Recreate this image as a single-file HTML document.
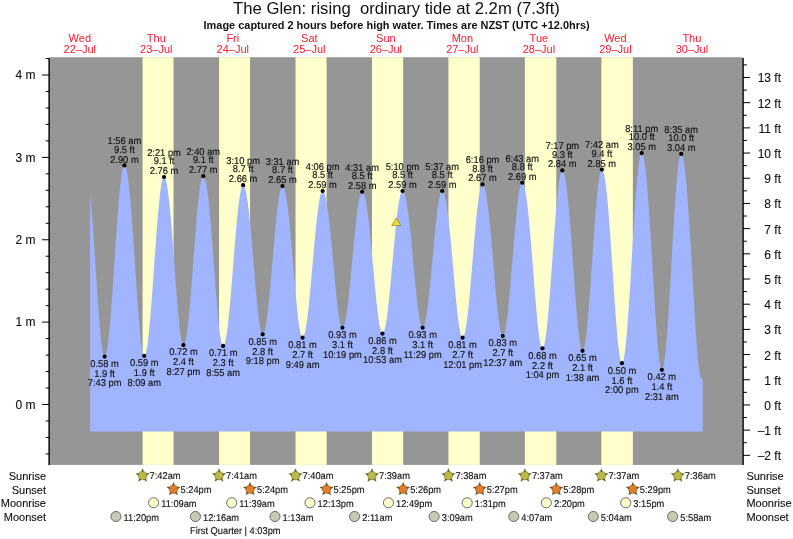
<!DOCTYPE html><html><head><meta charset="utf-8"><title>The Glen tide times</title>
<style>html,body{margin:0;padding:0;background:#fff}svg{display:block}text{font-family:"Liberation Sans",Arial,Helvetica,sans-serif;fill:#111}.s text{stroke:#111;stroke-width:.14px}.d text{fill:#f52030}.b text{stroke:#111;stroke-width:.12px}</style></head><body>
<svg width="793" height="539" viewBox="0 0 793 539">
<rect width="793" height="539" fill="#fff"/>
<rect x="50" y="57.2" width="692.4" height="407.7" fill="#969696"/>
<rect x="142.60" y="57.2" width="30.92" height="407.7" fill="#ffffcc"/>
<rect x="219.06" y="57.2" width="30.98" height="407.7" fill="#ffffcc"/>
<rect x="295.52" y="57.2" width="31.08" height="407.7" fill="#ffffcc"/>
<rect x="371.97" y="57.2" width="31.19" height="407.7" fill="#ffffcc"/>
<rect x="448.43" y="57.2" width="31.30" height="407.7" fill="#ffffcc"/>
<rect x="524.89" y="57.2" width="31.40" height="407.7" fill="#ffffcc"/>
<rect x="601.40" y="57.2" width="31.45" height="407.7" fill="#ffffcc"/>
<path d="M90.10,431.5L90.10,193.41L90.60,198.68L91.10,204.35L91.60,210.38L92.10,216.74L92.60,223.41L93.10,230.35L93.60,237.51L94.10,244.87L94.60,252.36L95.10,259.96L95.60,267.61L96.10,275.26L96.60,282.86L97.10,290.36L97.60,297.70L98.10,304.83L98.60,311.69L99.10,318.24L99.60,324.42L100.10,330.17L100.60,335.47L101.10,340.25L101.60,344.48L102.10,348.12L102.60,351.15L103.10,353.53L103.60,355.24L104.10,356.27L104.60,356.61L105.10,356.30L105.60,355.40L106.10,353.90L106.60,351.82L107.10,349.17L107.60,345.97L108.10,342.23L108.60,337.98L109.10,333.25L109.60,328.07L110.10,322.46L110.60,316.47L111.10,310.13L111.60,303.49L112.10,296.57L112.60,289.44L113.10,282.12L113.60,274.68L114.10,267.14L114.60,259.57L115.10,252.01L115.60,244.50L116.10,237.10L116.60,229.85L117.10,222.79L117.60,215.98L118.10,209.44L118.60,203.23L119.10,197.39L119.60,191.94L120.10,186.93L120.60,182.38L121.10,178.32L121.60,174.79L122.10,171.80L122.60,169.36L123.10,167.50L123.60,166.23L124.10,165.56L124.60,165.48L125.10,165.93L125.60,166.90L126.10,168.38L126.60,170.37L127.10,172.85L127.60,175.83L128.10,179.29L128.60,183.21L129.10,187.58L129.60,192.39L130.10,197.60L130.60,203.20L131.10,209.16L131.60,215.45L132.10,222.05L132.60,228.90L133.10,235.99L133.60,243.27L134.10,250.69L134.60,258.22L135.10,265.81L135.60,273.40L136.10,280.95L136.60,288.40L137.10,295.71L137.60,302.82L138.10,309.68L138.60,316.23L139.10,322.43L139.60,328.23L140.10,333.58L140.60,338.43L141.10,342.75L141.60,346.50L142.10,349.65L142.60,352.17L143.10,354.04L143.60,355.24L144.10,355.76L144.60,355.63L145.10,354.93L145.60,353.68L146.10,351.87L146.60,349.53L147.10,346.66L147.60,343.28L148.10,339.42L148.60,335.09L149.10,330.33L149.60,325.17L150.10,319.64L150.60,313.77L151.10,307.60L151.60,301.17L152.10,294.53L152.60,287.70L153.10,280.74L153.60,273.69L154.10,266.59L154.60,259.49L155.10,252.44L155.60,245.47L156.10,238.64L156.60,231.98L157.10,225.54L157.60,219.35L158.10,213.46L158.60,207.91L159.10,202.73L159.60,197.94L160.10,193.59L160.60,189.70L161.10,186.29L161.60,183.39L162.10,181.01L162.60,179.17L163.10,177.88L163.60,177.15L164.10,176.99L164.60,177.32L165.10,178.13L165.60,179.41L166.10,181.15L166.60,183.36L167.10,186.01L167.60,189.11L168.10,192.63L168.60,196.56L169.10,200.89L169.60,205.60L170.10,210.65L170.60,216.04L171.10,221.73L171.60,227.69L172.10,233.90L172.60,240.30L173.10,246.88L173.60,253.58L174.10,260.37L174.60,267.20L175.10,274.03L175.60,280.80L176.10,287.48L176.60,294.01L177.10,300.34L177.60,306.42L178.10,312.21L178.60,317.66L179.10,322.72L179.60,327.35L180.10,331.52L180.60,335.17L181.10,338.30L181.60,340.85L182.10,342.82L182.60,344.18L183.10,344.92L183.60,345.05L184.10,344.62L184.60,343.66L185.10,342.18L185.60,340.19L186.10,337.70L186.60,334.73L187.10,331.29L187.60,327.40L188.10,323.10L188.60,318.40L189.10,313.35L189.60,307.96L190.10,302.27L190.60,296.32L191.10,290.15L191.60,283.79L192.10,277.29L192.60,270.68L193.10,264.01L193.60,257.32L194.10,250.65L194.60,244.04L195.10,237.53L195.60,231.17L196.10,225.00L196.60,219.05L197.10,213.35L197.60,207.96L198.10,202.90L198.60,198.20L199.10,193.89L199.60,190.00L200.10,186.55L200.60,183.57L201.10,181.07L201.60,179.07L202.10,177.58L202.60,176.62L203.10,176.18L203.60,176.26L204.10,176.79L204.60,177.78L205.10,179.22L205.60,181.11L206.10,183.44L206.60,186.19L207.10,189.37L207.60,192.95L208.10,196.93L208.60,201.28L209.10,205.99L209.60,211.03L210.10,216.39L210.60,222.04L211.10,227.94L211.60,234.07L212.10,240.39L212.60,246.88L213.10,253.49L213.60,260.18L214.10,266.91L214.60,273.64L215.10,280.32L215.60,286.92L216.10,293.37L216.60,299.65L217.10,305.69L217.60,311.46L218.10,316.91L218.60,322.00L219.10,326.69L219.60,330.94L220.10,334.71L220.60,337.97L221.10,340.70L221.60,342.88L222.10,344.47L222.60,345.48L223.10,345.89L223.60,345.73L224.10,345.07L224.60,343.91L225.10,342.27L225.60,340.16L226.10,337.58L226.60,334.55L227.10,331.09L227.60,327.23L228.10,322.98L228.60,318.38L229.10,313.45L229.60,308.22L230.10,302.73L230.60,297.00L231.10,291.08L231.60,285.01L232.10,278.81L232.60,272.52L233.10,266.20L233.60,259.87L234.10,253.58L234.60,247.36L235.10,241.25L235.60,235.30L236.10,229.53L236.60,223.99L237.10,218.70L237.60,213.71L238.10,209.04L238.60,204.71L239.10,200.77L239.60,197.23L240.10,194.11L240.60,191.44L241.10,189.23L241.60,187.49L242.10,186.24L242.60,185.48L243.10,185.22L243.60,185.41L244.10,186.03L244.60,187.05L245.10,188.49L245.60,190.33L246.10,192.57L246.60,195.20L247.10,198.21L247.60,201.58L248.10,205.30L248.60,209.36L249.10,213.74L249.60,218.41L250.10,223.35L250.60,228.54L251.10,233.95L251.60,239.55L252.10,245.30L252.60,251.19L253.10,257.16L253.60,263.17L254.10,269.21L254.60,275.21L255.10,281.13L255.60,286.95L256.10,292.60L256.60,298.06L257.10,303.27L257.60,308.20L258.10,312.80L258.60,317.05L259.10,320.89L259.60,324.30L260.10,327.26L260.60,329.72L261.10,331.68L261.60,333.11L262.10,334.01L262.60,334.36L263.10,334.18L263.60,333.55L264.10,332.45L264.60,330.90L265.10,328.91L265.60,326.49L266.10,323.64L266.60,320.40L267.10,316.79L267.60,312.81L268.10,308.51L268.60,303.90L269.10,299.02L269.60,293.90L270.10,288.56L270.60,283.05L271.10,277.39L271.60,271.63L272.10,265.79L272.60,259.92L273.10,254.04L273.60,248.21L274.10,242.46L274.60,236.81L275.10,231.31L275.60,225.99L276.10,220.89L276.60,216.04L277.10,211.46L277.60,207.19L278.10,203.25L278.60,199.66L279.10,196.46L279.60,193.66L280.10,191.28L280.60,189.33L281.10,187.82L281.60,186.77L282.10,186.18L282.60,186.05L283.10,186.34L283.60,187.04L284.10,188.13L284.60,189.62L285.10,191.49L285.60,193.75L286.10,196.38L286.60,199.37L287.10,202.72L287.60,206.41L288.10,210.41L288.60,214.73L289.10,219.32L289.60,224.19L290.10,229.29L290.60,234.61L291.10,240.12L291.60,245.79L292.10,251.58L292.60,257.47L293.10,263.42L293.60,269.39L294.10,275.34L294.60,281.24L295.10,287.04L295.60,292.71L296.10,298.21L296.60,303.49L297.10,308.51L297.60,313.24L298.10,317.65L298.60,321.68L299.10,325.33L299.60,328.54L300.10,331.30L300.60,333.59L301.10,335.38L301.60,336.66L302.10,337.42L302.60,337.66L303.10,337.40L303.60,336.70L304.10,335.55L304.60,333.97L305.10,331.96L305.60,329.53L306.10,326.70L306.60,323.49L307.10,319.91L307.60,315.99L308.10,311.76L308.60,307.23L309.10,302.44L309.60,297.41L310.10,292.19L310.60,286.79L311.10,281.25L311.60,275.61L312.10,269.89L312.60,264.15L313.10,258.41L313.60,252.70L314.10,247.06L314.60,241.53L315.10,236.14L315.60,230.92L316.10,225.91L316.60,221.13L317.10,216.62L317.60,212.41L318.10,208.51L318.60,204.95L319.10,201.76L319.60,198.96L320.10,196.55L320.60,194.57L321.10,193.01L321.60,191.89L322.10,191.21L322.60,190.98L323.10,191.17L323.60,191.73L324.10,192.65L324.60,193.95L325.10,195.60L325.60,197.61L326.10,199.97L326.60,202.66L327.10,205.68L327.60,209.02L328.10,212.66L328.60,216.58L329.10,220.77L329.60,225.20L330.10,229.86L330.60,234.72L331.10,239.76L331.60,244.94L332.10,250.24L332.60,255.63L333.10,261.06L333.60,266.52L334.10,271.96L334.60,277.35L335.10,282.64L335.60,287.81L336.10,292.81L336.60,297.61L337.10,302.16L337.60,306.44L338.10,310.41L338.60,314.04L339.10,317.29L339.60,320.14L340.10,322.57L340.60,324.55L341.10,326.07L341.60,327.11L342.10,327.67L342.60,327.74L343.10,327.37L343.60,326.57L344.10,325.36L344.60,323.73L345.10,321.69L345.60,319.27L346.10,316.46L346.60,313.31L347.10,309.81L347.60,306.00L348.10,301.89L348.60,297.52L349.10,292.91L349.60,288.10L350.10,283.10L350.60,277.96L351.10,272.70L351.60,267.36L352.10,261.97L352.60,256.57L353.10,251.19L353.60,245.87L354.10,240.63L354.60,235.51L355.10,230.55L355.60,225.77L356.10,221.20L356.60,216.88L357.10,212.83L357.60,209.08L358.10,205.64L358.60,202.55L359.10,199.82L359.60,197.47L360.10,195.51L360.60,193.95L361.10,192.82L361.60,192.10L362.10,191.81L362.60,191.93L363.10,192.42L363.60,193.28L364.10,194.49L364.60,196.07L365.10,198.00L365.60,200.27L366.10,202.88L366.60,205.82L367.10,209.07L367.60,212.63L368.10,216.48L368.60,220.59L369.10,224.96L369.60,229.56L370.10,234.38L370.60,239.38L371.10,244.54L371.60,249.83L372.10,255.23L372.60,260.70L373.10,266.21L373.60,271.73L374.10,277.23L374.60,282.66L375.10,287.99L375.60,293.18L376.10,298.21L376.60,303.02L377.10,307.59L377.60,311.89L378.10,315.87L378.60,319.51L379.10,322.79L379.60,325.66L380.10,328.12L380.60,330.13L381.10,331.69L381.60,332.78L382.10,333.39L382.60,333.52L383.10,333.20L383.60,332.44L384.10,331.25L384.60,329.64L385.10,327.61L385.60,325.18L386.10,322.37L386.60,319.18L387.10,315.65L387.60,311.78L388.10,307.61L388.60,303.17L389.10,298.47L389.60,293.55L390.10,288.44L390.60,283.16L391.10,277.76L391.60,272.26L392.10,266.70L392.60,261.12L393.10,255.54L393.60,250.00L394.10,244.54L394.60,239.18L395.10,233.97L395.60,228.93L396.10,224.10L396.60,219.50L397.10,215.17L397.60,211.12L398.10,207.39L398.60,203.99L399.10,200.96L399.60,198.30L400.10,196.03L400.60,194.17L401.10,192.73L401.60,191.71L402.10,191.13L402.60,190.99L403.10,191.23L403.60,191.83L404.10,192.79L404.60,194.11L405.10,195.77L405.60,197.78L406.10,200.12L406.60,202.79L407.10,205.78L407.60,209.07L408.10,212.65L408.60,216.51L409.10,220.62L409.60,224.98L410.10,229.55L410.60,234.32L411.10,239.26L411.60,244.35L412.10,249.55L412.60,254.84L413.10,260.19L413.60,265.56L414.10,270.92L414.60,276.24L415.10,281.47L415.60,286.59L416.10,291.55L416.60,296.33L417.10,300.88L417.60,305.18L418.10,309.18L418.60,312.86L419.10,316.19L419.60,319.14L420.10,321.69L420.60,323.81L421.10,325.50L421.60,326.72L422.10,327.48L422.60,327.77L423.10,327.59L423.60,326.97L424.10,325.92L424.60,324.44L425.10,322.54L425.60,320.23L426.10,317.53L426.60,314.46L427.10,311.03L427.60,307.26L428.10,303.19L428.60,298.83L429.10,294.22L429.60,289.39L430.10,284.36L430.60,279.17L431.10,273.85L431.60,268.44L432.10,262.97L432.60,257.48L433.10,252.00L433.60,246.57L434.10,241.22L434.60,235.98L435.10,230.90L435.60,226.00L436.10,221.32L436.60,216.88L437.10,212.72L437.60,208.86L438.10,205.32L438.60,202.13L439.10,199.31L439.60,196.88L440.10,194.85L440.60,193.24L441.10,192.06L441.60,191.31L442.10,190.99L442.60,191.10L443.10,191.59L443.60,192.45L444.10,193.68L444.60,195.28L445.10,197.24L445.60,199.56L446.10,202.22L446.60,205.22L447.10,208.54L447.60,212.18L448.10,216.11L448.60,220.32L449.10,224.79L449.60,229.50L450.10,234.43L450.60,239.55L451.10,244.85L451.60,250.28L452.10,255.83L452.60,261.45L453.10,267.12L453.60,272.81L454.10,278.47L454.60,284.07L455.10,289.58L455.60,294.95L456.10,300.16L456.60,305.16L457.10,309.92L457.60,314.40L458.10,318.57L458.60,322.39L459.10,325.84L459.60,328.89L460.10,331.52L460.60,333.70L461.10,335.41L461.60,336.65L462.10,337.40L462.60,337.66L463.10,337.42L463.60,336.72L464.10,335.54L464.60,333.90L465.10,331.81L465.60,329.28L466.10,326.33L466.60,322.96L467.10,319.22L467.60,315.11L468.10,310.67L468.60,305.92L469.10,300.89L469.60,295.61L470.10,290.12L470.60,284.44L471.10,278.62L471.60,272.69L472.10,266.69L472.60,260.66L473.10,254.62L473.60,248.63L474.10,242.71L474.60,236.91L475.10,231.26L475.60,225.79L476.10,220.54L476.60,215.54L477.10,210.82L477.60,206.42L478.10,202.35L478.60,198.65L479.10,195.34L479.60,192.44L480.10,189.96L480.60,187.92L481.10,186.34L481.60,185.22L482.10,184.57L482.60,184.40L483.10,184.65L483.60,185.29L484.10,186.33L484.60,187.76L485.10,189.57L485.60,191.76L486.10,194.31L486.60,197.23L487.10,200.49L487.60,204.09L488.10,208.01L488.60,212.24L489.10,216.75L489.60,221.52L490.10,226.54L490.60,231.77L491.10,237.20L491.60,242.79L492.10,248.51L492.60,254.33L493.10,260.22L493.60,266.14L494.10,272.05L494.60,277.93L495.10,283.71L495.60,289.38L496.10,294.89L496.60,300.20L497.10,305.27L497.60,310.06L498.10,314.54L498.60,318.68L499.10,322.43L499.60,325.78L500.10,328.69L500.60,331.13L501.10,333.10L501.60,334.57L502.10,335.53L502.60,335.98L503.10,335.90L503.60,335.33L504.10,334.26L504.60,332.70L505.10,330.67L505.60,328.17L506.10,325.22L506.60,321.84L507.10,318.06L507.60,313.89L508.10,309.37L508.60,304.52L509.10,299.38L509.60,293.97L510.10,288.34L510.60,282.52L511.10,276.55L511.60,270.47L512.10,264.32L512.60,258.13L513.10,251.95L513.60,245.82L514.10,239.78L514.60,233.87L515.10,228.12L515.60,222.58L516.10,217.27L516.60,212.24L517.10,207.52L517.60,203.14L518.10,199.12L518.60,195.50L519.10,192.29L519.60,189.52L520.10,187.21L520.60,185.36L521.10,184.00L521.60,183.13L522.10,182.76L522.60,182.87L523.10,183.41L523.60,184.38L524.10,185.78L524.60,187.60L525.10,189.83L525.60,192.47L526.10,195.51L526.60,198.93L527.10,202.72L527.60,206.87L528.10,211.36L528.60,216.17L529.10,221.28L529.60,226.66L530.10,232.30L530.60,238.15L531.10,244.19L531.60,250.39L532.10,256.71L532.60,263.12L533.10,269.58L533.60,276.05L534.10,282.48L534.60,288.85L535.10,295.09L535.60,301.18L536.10,307.07L536.60,312.71L537.10,318.07L537.60,323.10L538.10,327.76L538.60,332.03L539.10,335.85L539.60,339.22L540.10,342.08L540.60,344.44L541.10,346.25L541.60,347.51L542.10,348.21L542.60,348.35L543.10,347.92L543.60,346.94L544.10,345.40L544.60,343.33L545.10,340.73L545.60,337.61L546.10,334.01L546.60,329.94L547.10,325.42L547.60,320.49L548.10,315.18L548.60,309.52L549.10,303.54L549.60,297.28L550.10,290.79L550.60,284.10L551.10,277.25L551.60,270.29L552.10,263.27L552.60,256.22L553.10,249.18L553.60,242.22L554.10,235.36L554.60,228.65L555.10,222.13L555.60,215.85L556.10,209.84L556.60,204.14L557.10,198.79L557.60,193.82L558.10,189.26L558.60,185.14L559.10,181.49L559.60,178.33L560.10,175.67L560.60,173.54L561.10,171.95L561.60,170.91L562.10,170.42L562.60,170.48L563.10,171.01L563.60,172.01L564.10,173.47L564.60,175.40L565.10,177.77L565.60,180.60L566.10,183.85L566.60,187.53L567.10,191.61L567.60,196.09L568.10,200.94L568.60,206.13L569.10,211.66L569.60,217.49L570.10,223.59L570.60,229.94L571.10,236.50L571.60,243.23L572.10,250.11L572.60,257.08L573.10,264.11L573.60,271.16L574.10,278.18L574.60,285.13L575.10,291.95L575.60,298.61L576.10,305.05L576.60,311.24L577.10,317.11L577.60,322.64L578.10,327.78L578.60,332.48L579.10,336.71L579.60,340.44L580.10,343.63L580.60,346.27L581.10,348.32L581.60,349.77L582.10,350.61L582.60,350.83L583.10,350.45L583.60,349.47L584.10,347.90L584.60,345.76L585.10,343.05L585.60,339.79L586.10,336.01L586.60,331.73L587.10,326.98L587.60,321.79L588.10,316.19L588.60,310.23L589.10,303.93L589.60,297.34L590.10,290.51L590.60,283.48L591.10,276.30L591.60,269.01L592.10,261.66L592.60,254.31L593.10,246.99L593.60,239.76L594.10,232.66L594.60,225.74L595.10,219.06L595.60,212.64L596.10,206.54L596.60,200.79L597.10,195.43L597.60,190.50L598.10,186.03L598.60,182.05L599.10,178.58L599.60,175.65L600.10,173.28L600.60,171.48L601.10,170.27L601.60,169.65L602.10,169.61L602.60,170.11L603.10,171.11L603.60,172.62L604.10,174.64L604.60,177.14L605.10,180.14L605.60,183.61L606.10,187.54L606.60,191.91L607.10,196.72L607.60,201.93L608.10,207.52L608.60,213.48L609.10,219.76L609.60,226.35L610.10,233.20L610.60,240.29L611.10,247.57L611.60,255.00L612.10,262.54L612.60,270.15L613.10,277.77L613.60,285.36L614.10,292.87L614.60,300.25L615.10,307.44L615.60,314.40L616.10,321.07L616.60,327.41L617.10,333.36L617.60,338.88L618.10,343.92L618.60,348.45L619.10,352.43L619.60,355.82L620.10,358.59L620.60,360.73L621.10,362.21L621.60,363.03L622.10,363.17L622.60,362.64L623.10,361.45L623.60,359.61L624.10,357.12L624.60,354.00L625.10,350.27L625.60,345.96L626.10,341.09L626.60,335.69L627.10,329.80L627.60,323.46L628.10,316.70L628.60,309.58L629.10,302.12L629.60,294.39L630.10,286.42L630.60,278.28L631.10,270.01L631.60,261.66L632.10,253.29L632.60,244.95L633.10,236.70L633.60,228.58L634.10,220.65L634.60,212.95L635.10,205.55L635.60,198.47L636.10,191.78L636.60,185.51L637.10,179.70L637.60,174.38L638.10,169.60L638.60,165.38L639.10,161.75L639.60,158.73L640.10,156.34L640.60,154.59L641.10,153.51L641.60,153.09L642.10,153.29L642.60,154.07L643.10,155.41L643.60,157.31L644.10,159.76L644.60,162.76L645.10,166.30L645.60,170.35L646.10,174.90L646.60,179.95L647.10,185.46L647.60,191.41L648.10,197.78L648.60,204.53L649.10,211.65L649.60,219.08L650.10,226.80L650.60,234.76L651.10,242.92L651.60,251.24L652.10,259.66L652.60,268.14L653.10,276.62L653.60,285.05L654.10,293.38L654.60,301.54L655.10,309.48L655.60,317.15L656.10,324.49L656.60,331.44L657.10,337.95L657.60,343.97L658.10,349.45L658.60,354.35L659.10,358.64L659.60,362.26L660.10,365.20L660.60,367.43L661.10,368.93L661.60,369.69L662.10,369.71L662.60,369.01L663.10,367.60L663.60,365.50L664.10,362.71L664.60,359.25L665.10,355.16L665.60,350.45L666.10,345.15L666.60,339.31L667.10,332.96L667.60,326.13L668.10,318.89L668.60,311.26L669.10,303.32L669.60,295.09L670.10,286.65L670.60,278.05L671.10,269.34L671.60,260.58L672.10,251.82L672.60,243.14L673.10,234.57L673.60,226.19L674.10,218.04L674.60,210.18L675.10,202.66L675.60,195.53L676.10,188.84L676.60,182.63L677.10,176.95L677.60,171.82L678.10,167.28L678.60,163.37L679.10,160.11L679.60,157.52L680.10,155.62L680.60,154.41L681.10,153.92L681.60,154.09L682.10,154.84L682.60,156.16L683.10,158.05L683.60,160.49L684.10,163.49L684.60,167.03L685.10,171.10L685.60,175.68L686.10,180.76L686.60,186.31L687.10,192.32L687.60,198.75L688.10,205.58L688.60,212.78L689.10,220.32L689.60,228.15L690.10,236.24L690.60,244.54L691.10,253.02L691.60,261.62L692.10,270.29L692.60,278.99L693.10,287.65L693.60,296.23L694.10,304.66L694.60,312.90L695.10,320.88L695.60,328.55L696.10,335.85L696.60,342.74L697.10,349.15L697.60,355.03L698.10,360.36L698.60,365.07L699.10,369.14L699.60,372.53L700.10,375.22L700.60,377.18L701.10,378.39L701.60,378.85L702.10,378.86L702.60,378.86L702.70,378.86L702.70,431.5Z" fill="#a0b4ff"/>
<g stroke="#000" stroke-width="1.5" fill="none">
<line x1="49.15" y1="57.9" x2="49.15" y2="465.09999999999997"/>
<line x1="743.05" y1="57.9" x2="743.05" y2="465.09999999999997"/>
</g><g stroke="#000" stroke-width="1" fill="none">
<line x1="45.7" y1="453.93" x2="49.15" y2="453.93"/>
<line x1="45.7" y1="437.45" x2="49.15" y2="437.45"/>
<line x1="45.7" y1="420.98" x2="49.15" y2="420.98"/>
<line x1="42.1" y1="404.50" x2="49.15" y2="404.50"/>
<line x1="45.7" y1="388.02" x2="49.15" y2="388.02"/>
<line x1="45.7" y1="371.55" x2="49.15" y2="371.55"/>
<line x1="45.7" y1="355.07" x2="49.15" y2="355.07"/>
<line x1="45.7" y1="338.60" x2="49.15" y2="338.60"/>
<line x1="42.1" y1="322.12" x2="49.15" y2="322.12"/>
<line x1="45.7" y1="305.65" x2="49.15" y2="305.65"/>
<line x1="45.7" y1="289.17" x2="49.15" y2="289.17"/>
<line x1="45.7" y1="272.70" x2="49.15" y2="272.70"/>
<line x1="45.7" y1="256.23" x2="49.15" y2="256.23"/>
<line x1="42.1" y1="239.75" x2="49.15" y2="239.75"/>
<line x1="45.7" y1="223.27" x2="49.15" y2="223.27"/>
<line x1="45.7" y1="206.80" x2="49.15" y2="206.80"/>
<line x1="45.7" y1="190.32" x2="49.15" y2="190.32"/>
<line x1="45.7" y1="173.85" x2="49.15" y2="173.85"/>
<line x1="42.1" y1="157.38" x2="49.15" y2="157.38"/>
<line x1="45.7" y1="140.90" x2="49.15" y2="140.90"/>
<line x1="45.7" y1="124.42" x2="49.15" y2="124.42"/>
<line x1="45.7" y1="107.95" x2="49.15" y2="107.95"/>
<line x1="45.7" y1="91.47" x2="49.15" y2="91.47"/>
<line x1="42.1" y1="75.00" x2="49.15" y2="75.00"/>
<line x1="45.7" y1="58.52" x2="49.15" y2="58.52"/>
<line x1="743.05" y1="455.33" x2="750" y2="455.33"/>
<line x1="743.05" y1="442.74" x2="746.9" y2="442.74"/>
<line x1="743.05" y1="430.14" x2="750" y2="430.14"/>
<line x1="743.05" y1="417.55" x2="746.9" y2="417.55"/>
<line x1="743.05" y1="404.95" x2="750" y2="404.95"/>
<line x1="743.05" y1="392.35" x2="746.9" y2="392.35"/>
<line x1="743.05" y1="379.76" x2="750" y2="379.76"/>
<line x1="743.05" y1="367.16" x2="746.9" y2="367.16"/>
<line x1="743.05" y1="354.57" x2="750" y2="354.57"/>
<line x1="743.05" y1="341.97" x2="746.9" y2="341.97"/>
<line x1="743.05" y1="329.38" x2="750" y2="329.38"/>
<line x1="743.05" y1="316.78" x2="746.9" y2="316.78"/>
<line x1="743.05" y1="304.19" x2="750" y2="304.19"/>
<line x1="743.05" y1="291.59" x2="746.9" y2="291.59"/>
<line x1="743.05" y1="279.00" x2="750" y2="279.00"/>
<line x1="743.05" y1="266.40" x2="746.9" y2="266.40"/>
<line x1="743.05" y1="253.81" x2="750" y2="253.81"/>
<line x1="743.05" y1="241.21" x2="746.9" y2="241.21"/>
<line x1="743.05" y1="228.62" x2="750" y2="228.62"/>
<line x1="743.05" y1="216.02" x2="746.9" y2="216.02"/>
<line x1="743.05" y1="203.43" x2="750" y2="203.43"/>
<line x1="743.05" y1="190.83" x2="746.9" y2="190.83"/>
<line x1="743.05" y1="178.24" x2="750" y2="178.24"/>
<line x1="743.05" y1="165.64" x2="746.9" y2="165.64"/>
<line x1="743.05" y1="153.05" x2="750" y2="153.05"/>
<line x1="743.05" y1="140.45" x2="746.9" y2="140.45"/>
<line x1="743.05" y1="127.86" x2="750" y2="127.86"/>
<line x1="743.05" y1="115.26" x2="746.9" y2="115.26"/>
<line x1="743.05" y1="102.67" x2="750" y2="102.67"/>
<line x1="743.05" y1="90.07" x2="746.9" y2="90.07"/>
<line x1="743.05" y1="77.48" x2="750" y2="77.48"/>
<line x1="743.05" y1="64.88" x2="746.9" y2="64.88"/>
</g>
<g class="b" font-size="12">
<text x="35.6" y="409" text-anchor="end">0 m</text>
<text x="35.6" y="326" text-anchor="end">1 m</text>
<text x="35.6" y="244" text-anchor="end">2 m</text>
<text x="35.6" y="162" text-anchor="end">3 m</text>
<text x="35.6" y="79" text-anchor="end">4 m</text>
<text x="781" y="460" text-anchor="end">–2 ft</text>
<text x="781" y="435" text-anchor="end">–1 ft</text>
<text x="781" y="410" text-anchor="end">0 ft</text>
<text x="781" y="385" text-anchor="end">1 ft</text>
<text x="781" y="360" text-anchor="end">2 ft</text>
<text x="781" y="334" text-anchor="end">3 ft</text>
<text x="781" y="309" text-anchor="end">4 ft</text>
<text x="781" y="284" text-anchor="end">5 ft</text>
<text x="781" y="259" text-anchor="end">6 ft</text>
<text x="781" y="234" text-anchor="end">7 ft</text>
<text x="781" y="208" text-anchor="end">8 ft</text>
<text x="781" y="183" text-anchor="end">9 ft</text>
<text x="781" y="158" text-anchor="end">10 ft</text>
<text x="781" y="133" text-anchor="end">11 ft</text>
<text x="781" y="108" text-anchor="end">12 ft</text>
<text x="781" y="82" text-anchor="end">13 ft</text>
</g>
<text x="396.5" y="14.4" font-size="16.66" text-anchor="middle" xml:space="preserve">The Glen: rising  ordinary tide at 2.2m (7.3ft)</text>
<text x="396.6" y="28.6" font-size="10.95" font-weight="bold" text-anchor="middle">Image captured 2 hours before high water. Times are NZST (UTC +12.0hrs)</text>
<g class="d" font-size="11" text-anchor="middle">
<text x="79.79" y="41.6">Wed</text><text x="79.79" y="52.6">22–Jul</text>
<text x="156.31" y="41.6">Thu</text><text x="156.31" y="52.6">23–Jul</text>
<text x="232.82" y="41.6">Fri</text><text x="232.82" y="52.6">24–Jul</text>
<text x="309.33" y="41.6">Sat</text><text x="309.33" y="52.6">25–Jul</text>
<text x="385.84" y="41.6">Sun</text><text x="385.84" y="52.6">26–Jul</text>
<text x="462.35" y="41.6">Mon</text><text x="462.35" y="52.6">27–Jul</text>
<text x="538.87" y="41.6">Tue</text><text x="538.87" y="52.6">28–Jul</text>
<text x="615.38" y="41.6">Wed</text><text x="615.38" y="52.6">29–Jul</text>
<text x="691.89" y="41.6">Thu</text><text x="691.89" y="52.6">30–Jul</text>
</g>
<g class="s" font-size="9.9" text-anchor="middle" text-rendering="geometricPrecision">
<circle cx="104.59" cy="356.61" r="2.1" fill="#000"/>
<text transform="translate(104.59,367) scale(0.944,1)">0.58 m</text><text transform="translate(104.59,377) scale(0.944,1)">1.9 ft</text><text transform="translate(104.59,386) scale(0.944,1)">7:43 pm</text>
<circle cx="124.41" cy="165.44" r="2.1" fill="#000"/>
<text transform="translate(124.41,144) scale(0.944,1)">1:56 am</text><text transform="translate(124.41,153) scale(0.944,1)">9.5 ft</text><text transform="translate(124.41,163) scale(0.944,1)">2.90 m</text>
<circle cx="144.23" cy="355.78" r="2.1" fill="#000"/>
<text transform="translate(144.23,366) scale(0.944,1)">0.59 m</text><text transform="translate(144.23,376) scale(0.944,1)">1.9 ft</text><text transform="translate(144.23,386) scale(0.944,1)">8:09 am</text>
<circle cx="164.00" cy="176.98" r="2.1" fill="#000"/>
<text transform="translate(164.00,156) scale(0.944,1)">2:21 pm</text><text transform="translate(164.00,164) scale(0.944,1)">9.1 ft</text><text transform="translate(164.00,174) scale(0.944,1)">2.76 m</text>
<circle cx="183.44" cy="345.07" r="2.1" fill="#000"/>
<text transform="translate(183.44,355) scale(0.944,1)">0.72 m</text><text transform="translate(183.44,365) scale(0.944,1)">2.4 ft</text><text transform="translate(183.44,375) scale(0.944,1)">8:27 pm</text>
<circle cx="203.26" cy="176.15" r="2.1" fill="#000"/>
<text transform="translate(203.26,155) scale(0.944,1)">2:40 am</text><text transform="translate(203.26,163) scale(0.944,1)">9.1 ft</text><text transform="translate(203.26,173) scale(0.944,1)">2.77 m</text>
<circle cx="223.19" cy="345.90" r="2.1" fill="#000"/>
<text transform="translate(223.19,356) scale(0.944,1)">0.71 m</text><text transform="translate(223.19,366) scale(0.944,1)">2.3 ft</text><text transform="translate(223.19,376) scale(0.944,1)">8:55 am</text>
<circle cx="243.11" cy="185.22" r="2.1" fill="#000"/>
<text transform="translate(243.11,164) scale(0.944,1)">3:10 pm</text><text transform="translate(243.11,172) scale(0.944,1)">8.7 ft</text><text transform="translate(243.11,182) scale(0.944,1)">2.66 m</text>
<circle cx="262.67" cy="334.36" r="2.1" fill="#000"/>
<text transform="translate(262.67,345) scale(0.944,1)">0.85 m</text><text transform="translate(262.67,355) scale(0.944,1)">2.8 ft</text><text transform="translate(262.67,364) scale(0.944,1)">9:18 pm</text>
<circle cx="282.49" cy="186.04" r="2.1" fill="#000"/>
<text transform="translate(282.49,165) scale(0.944,1)">3:31 am</text><text transform="translate(282.49,173) scale(0.944,1)">8.7 ft</text><text transform="translate(282.49,183) scale(0.944,1)">2.65 m</text>
<circle cx="302.57" cy="337.66" r="2.1" fill="#000"/>
<text transform="translate(302.57,348) scale(0.944,1)">0.81 m</text><text transform="translate(302.57,358) scale(0.944,1)">2.7 ft</text><text transform="translate(302.57,368) scale(0.944,1)">9:49 am</text>
<circle cx="322.60" cy="190.98" r="2.1" fill="#000"/>
<text transform="translate(322.60,170) scale(0.944,1)">4:06 pm</text><text transform="translate(322.60,178) scale(0.944,1)">8.5 ft</text><text transform="translate(322.60,188) scale(0.944,1)">2.59 m</text>
<circle cx="342.42" cy="327.77" r="2.1" fill="#000"/>
<text transform="translate(342.42,338) scale(0.944,1)">0.93 m</text><text transform="translate(342.42,348) scale(0.944,1)">3.1 ft</text><text transform="translate(342.42,358) scale(0.944,1)">10:19 pm</text>
<circle cx="362.19" cy="191.81" r="2.1" fill="#000"/>
<text transform="translate(362.19,171) scale(0.944,1)">4:31 am</text><text transform="translate(362.19,179) scale(0.944,1)">8.5 ft</text><text transform="translate(362.19,189) scale(0.944,1)">2.58 m</text>
<circle cx="382.48" cy="333.54" r="2.1" fill="#000"/>
<text transform="translate(382.48,344) scale(0.944,1)">0.86 m</text><text transform="translate(382.48,354) scale(0.944,1)">2.8 ft</text><text transform="translate(382.48,363) scale(0.944,1)">10:53 am</text>
<circle cx="402.51" cy="190.98" r="2.1" fill="#000"/>
<text transform="translate(402.51,170) scale(0.944,1)">5:10 pm</text><text transform="translate(402.51,178) scale(0.944,1)">8.5 ft</text><text transform="translate(402.51,188) scale(0.944,1)">2.59 m</text>
<circle cx="422.65" cy="327.77" r="2.1" fill="#000"/>
<text transform="translate(422.65,338) scale(0.944,1)">0.93 m</text><text transform="translate(422.65,348) scale(0.944,1)">3.1 ft</text><text transform="translate(422.65,358) scale(0.944,1)">11:29 pm</text>
<circle cx="442.20" cy="190.98" r="2.1" fill="#000"/>
<text transform="translate(442.20,170) scale(0.944,1)">5:37 am</text><text transform="translate(442.20,178) scale(0.944,1)">8.5 ft</text><text transform="translate(442.20,188) scale(0.944,1)">2.59 m</text>
<circle cx="462.61" cy="337.66" r="2.1" fill="#000"/>
<text transform="translate(462.61,348) scale(0.944,1)">0.81 m</text><text transform="translate(462.61,358) scale(0.944,1)">2.7 ft</text><text transform="translate(462.61,368) scale(0.944,1)">12:01 pm</text>
<circle cx="482.53" cy="184.39" r="2.1" fill="#000"/>
<text transform="translate(482.53,163) scale(0.944,1)">6:16 pm</text><text transform="translate(482.53,172) scale(0.944,1)">8.8 ft</text><text transform="translate(482.53,181) scale(0.944,1)">2.67 m</text>
<circle cx="502.78" cy="336.01" r="2.1" fill="#000"/>
<text transform="translate(502.78,346) scale(0.944,1)">0.83 m</text><text transform="translate(502.78,356) scale(0.944,1)">2.7 ft</text><text transform="translate(502.78,366) scale(0.944,1)">12:37 am</text>
<circle cx="522.22" cy="182.74" r="2.1" fill="#000"/>
<text transform="translate(522.22,162) scale(0.944,1)">6:43 am</text><text transform="translate(522.22,170) scale(0.944,1)">8.8 ft</text><text transform="translate(522.22,180) scale(0.944,1)">2.69 m</text>
<circle cx="542.47" cy="348.37" r="2.1" fill="#000"/>
<text transform="translate(542.47,359) scale(0.944,1)">0.68 m</text><text transform="translate(542.47,369) scale(0.944,1)">2.2 ft</text><text transform="translate(542.47,378) scale(0.944,1)">1:04 pm</text>
<circle cx="562.29" cy="170.38" r="2.1" fill="#000"/>
<text transform="translate(562.29,149) scale(0.944,1)">7:17 pm</text><text transform="translate(562.29,158) scale(0.944,1)">9.3 ft</text><text transform="translate(562.29,167) scale(0.944,1)">2.84 m</text>
<circle cx="582.53" cy="350.84" r="2.1" fill="#000"/>
<text transform="translate(582.53,361) scale(0.944,1)">0.65 m</text><text transform="translate(582.53,371) scale(0.944,1)">2.1 ft</text><text transform="translate(582.53,381) scale(0.944,1)">1:38 am</text>
<circle cx="601.87" cy="169.56" r="2.1" fill="#000"/>
<text transform="translate(601.87,148) scale(0.944,1)">7:42 am</text><text transform="translate(601.87,157) scale(0.944,1)">9.4 ft</text><text transform="translate(601.87,167) scale(0.944,1)">2.85 m</text>
<circle cx="621.95" cy="363.20" r="2.1" fill="#000"/>
<text transform="translate(621.95,374) scale(0.944,1)">0.50 m</text><text transform="translate(621.95,384) scale(0.944,1)">1.6 ft</text><text transform="translate(621.95,393) scale(0.944,1)">2:00 pm</text>
<circle cx="641.67" cy="153.08" r="2.1" fill="#000"/>
<text transform="translate(641.67,132) scale(0.944,1)">8:11 pm</text><text transform="translate(641.67,140) scale(0.944,1)">10.0 ft</text><text transform="translate(641.67,150) scale(0.944,1)">3.05 m</text>
<circle cx="661.86" cy="369.79" r="2.1" fill="#000"/>
<text transform="translate(661.86,380) scale(0.944,1)">0.42 m</text><text transform="translate(661.86,390) scale(0.944,1)">1.4 ft</text><text transform="translate(661.86,400) scale(0.944,1)">2:31 am</text>
<circle cx="681.20" cy="153.90" r="2.1" fill="#000"/>
<text transform="translate(681.20,133) scale(0.944,1)">8:35 am</text><text transform="translate(681.20,141) scale(0.944,1)">10.0 ft</text><text transform="translate(681.20,151) scale(0.944,1)">3.04 m</text>
</g>
<path d="M396.3,218 L400.8,225.5 L391.7,225.5Z" fill="#e6e032" stroke="#8c6414" stroke-width="0.6"/>
<g class="b" font-size="11">
<text x="46" y="480" text-anchor="end">Sunrise</text><text x="746.4" y="480">Sunrise</text>
<text x="46" y="493.7" text-anchor="end">Sunset</text><text x="746.4" y="493.7">Sunset</text>
<text x="46" y="507.1" text-anchor="end">Moonrise</text><text x="746.4" y="507.1">Moonrise</text>
<text x="46" y="520.7" text-anchor="end">Moonset</text><text x="746.4" y="520.7">Moonset</text>
</g>
<g class="s" font-size="9.9" text-rendering="geometricPrecision">
<polygon points="142.60,468.60 144.36,473.27 149.35,473.51 145.45,476.63 146.77,481.44 142.60,478.70 138.42,481.44 139.74,476.63 135.85,473.51 140.83,473.27" fill="#5f5f19" stroke="#5f5f19" stroke-width="0.3"/><circle cx="142.60" cy="475.7" r="4.1" fill="#b9b94b" stroke="#6e6428" stroke-width="0.5"/>
<text transform="translate(149.60,479) scale(0.939,1)">7:42am</text>
<polygon points="173.52,482.20 175.28,486.87 180.27,487.11 176.37,490.23 177.69,495.04 173.52,492.30 169.35,495.04 170.67,490.23 166.77,487.11 171.76,486.87" fill="#5f5519" stroke="#5f5519" stroke-width="0.3"/><circle cx="173.52" cy="489.3" r="4.1" fill="#e17d2d" stroke="#78501e" stroke-width="0.5"/>
<text transform="translate(180.52,493) scale(0.939,1)">5:24pm</text>
<polygon points="219.06,468.60 220.82,473.27 225.81,473.51 221.91,476.63 223.23,481.44 219.06,478.70 214.88,481.44 216.20,476.63 212.30,473.51 217.29,473.27" fill="#5f5f19" stroke="#5f5f19" stroke-width="0.3"/><circle cx="219.06" cy="475.7" r="4.1" fill="#b9b94b" stroke="#6e6428" stroke-width="0.5"/>
<text transform="translate(226.06,479) scale(0.939,1)">7:41am</text>
<polygon points="250.03,482.20 251.80,486.87 256.79,487.11 252.89,490.23 254.21,495.04 250.03,492.30 245.86,495.04 247.18,490.23 243.28,487.11 248.27,486.87" fill="#5f5519" stroke="#5f5519" stroke-width="0.3"/><circle cx="250.03" cy="489.3" r="4.1" fill="#e17d2d" stroke="#78501e" stroke-width="0.5"/>
<text transform="translate(257.03,493) scale(0.939,1)">5:24pm</text>
<polygon points="295.52,468.60 297.28,473.27 302.27,473.51 298.37,476.63 299.69,481.44 295.52,478.70 291.34,481.44 292.66,476.63 288.76,473.51 293.75,473.27" fill="#5f5f19" stroke="#5f5f19" stroke-width="0.3"/><circle cx="295.52" cy="475.7" r="4.1" fill="#b9b94b" stroke="#6e6428" stroke-width="0.5"/>
<text transform="translate(302.52,479) scale(0.939,1)">7:40am</text>
<polygon points="326.60,482.20 328.36,486.87 333.35,487.11 329.45,490.23 330.77,495.04 326.60,492.30 322.43,495.04 323.75,490.23 319.85,487.11 324.83,486.87" fill="#5f5519" stroke="#5f5519" stroke-width="0.3"/><circle cx="326.60" cy="489.3" r="4.1" fill="#e17d2d" stroke="#78501e" stroke-width="0.5"/>
<text transform="translate(333.60,493) scale(0.939,1)">5:25pm</text>
<polygon points="371.97,468.60 373.74,473.27 378.73,473.51 374.83,476.63 376.15,481.44 371.97,478.70 367.80,481.44 369.12,476.63 365.22,473.51 370.21,473.27" fill="#5f5f19" stroke="#5f5f19" stroke-width="0.3"/><circle cx="371.97" cy="475.7" r="4.1" fill="#b9b94b" stroke="#6e6428" stroke-width="0.5"/>
<text transform="translate(378.97,479) scale(0.939,1)">7:39am</text>
<polygon points="403.16,482.20 404.93,486.87 409.92,487.11 406.02,490.23 407.34,495.04 403.16,492.30 398.99,495.04 400.31,490.23 396.41,487.11 401.40,486.87" fill="#5f5519" stroke="#5f5519" stroke-width="0.3"/><circle cx="403.16" cy="489.3" r="4.1" fill="#e17d2d" stroke="#78501e" stroke-width="0.5"/>
<text transform="translate(410.16,493) scale(0.939,1)">5:26pm</text>
<polygon points="448.43,468.60 450.20,473.27 455.19,473.51 451.29,476.63 452.61,481.44 448.43,478.70 444.26,481.44 445.58,476.63 441.68,473.51 446.67,473.27" fill="#5f5f19" stroke="#5f5f19" stroke-width="0.3"/><circle cx="448.43" cy="475.7" r="4.1" fill="#b9b94b" stroke="#6e6428" stroke-width="0.5"/>
<text transform="translate(455.43,479) scale(0.939,1)">7:38am</text>
<polygon points="479.73,482.20 481.49,486.87 486.48,487.11 482.58,490.23 483.90,495.04 479.73,492.30 475.56,495.04 476.88,490.23 472.98,487.11 477.97,486.87" fill="#5f5519" stroke="#5f5519" stroke-width="0.3"/><circle cx="479.73" cy="489.3" r="4.1" fill="#e17d2d" stroke="#78501e" stroke-width="0.5"/>
<text transform="translate(486.73,493) scale(0.939,1)">5:27pm</text>
<polygon points="524.89,468.60 526.66,473.27 531.64,473.51 527.75,476.63 529.07,481.44 524.89,478.70 520.72,481.44 522.04,476.63 518.14,473.51 523.13,473.27" fill="#5f5f19" stroke="#5f5f19" stroke-width="0.3"/><circle cx="524.89" cy="475.7" r="4.1" fill="#b9b94b" stroke="#6e6428" stroke-width="0.5"/>
<text transform="translate(531.89,479) scale(0.939,1)">7:37am</text>
<polygon points="556.29,482.20 558.06,486.87 563.05,487.11 559.15,490.23 560.47,495.04 556.29,492.30 552.12,495.04 553.44,490.23 549.54,487.11 554.53,486.87" fill="#5f5519" stroke="#5f5519" stroke-width="0.3"/><circle cx="556.29" cy="489.3" r="4.1" fill="#e17d2d" stroke="#78501e" stroke-width="0.5"/>
<text transform="translate(563.29,493) scale(0.939,1)">5:28pm</text>
<polygon points="601.40,468.60 603.17,473.27 608.16,473.51 604.26,476.63 605.58,481.44 601.40,478.70 597.23,481.44 598.55,476.63 594.65,473.51 599.64,473.27" fill="#5f5f19" stroke="#5f5f19" stroke-width="0.3"/><circle cx="601.40" cy="475.7" r="4.1" fill="#b9b94b" stroke="#6e6428" stroke-width="0.5"/>
<text transform="translate(608.40,479) scale(0.939,1)">7:37am</text>
<polygon points="632.86,482.20 634.62,486.87 639.61,487.11 635.71,490.23 637.03,495.04 632.86,492.30 628.69,495.04 630.01,490.23 626.11,487.11 631.10,486.87" fill="#5f5519" stroke="#5f5519" stroke-width="0.3"/><circle cx="632.86" cy="489.3" r="4.1" fill="#e17d2d" stroke="#78501e" stroke-width="0.5"/>
<text transform="translate(639.86,493) scale(0.939,1)">5:29pm</text>
<polygon points="677.86,468.60 679.63,473.27 684.62,473.51 680.72,476.63 682.04,481.44 677.86,478.70 673.69,481.44 675.01,476.63 671.11,473.51 676.10,473.27" fill="#5f5f19" stroke="#5f5f19" stroke-width="0.3"/><circle cx="677.86" cy="475.7" r="4.1" fill="#b9b94b" stroke="#6e6428" stroke-width="0.5"/>
<text transform="translate(684.86,479) scale(0.939,1)">7:36am</text>
<circle cx="153.60" cy="502.8" r="5.05" fill="#ffffcc" stroke="#5a5a5a" stroke-width="0.9"/>
<text transform="translate(161.20,507) scale(0.939,1)">11:09am</text>
<circle cx="231.70" cy="502.8" r="5.05" fill="#ffffcc" stroke="#5a5a5a" stroke-width="0.9"/>
<text transform="translate(239.30,507) scale(0.939,1)">11:39am</text>
<circle cx="310.02" cy="502.8" r="5.05" fill="#ffffcc" stroke="#5a5a5a" stroke-width="0.9"/>
<text transform="translate(317.62,507) scale(0.939,1)">12:13pm</text>
<circle cx="388.45" cy="502.8" r="5.05" fill="#ffffcc" stroke="#5a5a5a" stroke-width="0.9"/>
<text transform="translate(396.05,507) scale(0.939,1)">12:49pm</text>
<circle cx="467.19" cy="502.8" r="5.05" fill="#ffffcc" stroke="#5a5a5a" stroke-width="0.9"/>
<text transform="translate(474.79,507) scale(0.939,1)">1:31pm</text>
<circle cx="546.30" cy="502.8" r="5.05" fill="#ffffcc" stroke="#5a5a5a" stroke-width="0.9"/>
<text transform="translate(553.90,507) scale(0.939,1)">2:20pm</text>
<circle cx="625.74" cy="502.8" r="5.05" fill="#ffffcc" stroke="#5a5a5a" stroke-width="0.9"/>
<text transform="translate(633.34,507) scale(0.939,1)">3:15pm</text>
<circle cx="115.92" cy="516.5" r="5.05" fill="#c8c8b4" stroke="#5a5a5a" stroke-width="0.9"/>
<text transform="translate(123.52,521) scale(0.939,1)">11:20pm</text>
<circle cx="195.41" cy="516.5" r="5.05" fill="#c8c8b4" stroke="#5a5a5a" stroke-width="0.9"/>
<text transform="translate(203.01,521) scale(0.939,1)">12:16am</text>
<circle cx="274.95" cy="516.5" r="5.05" fill="#c8c8b4" stroke="#5a5a5a" stroke-width="0.9"/>
<text transform="translate(282.55,521) scale(0.939,1)">1:13am</text>
<circle cx="354.55" cy="516.5" r="5.05" fill="#c8c8b4" stroke="#5a5a5a" stroke-width="0.9"/>
<text transform="translate(362.15,521) scale(0.939,1)">2:11am</text>
<circle cx="434.14" cy="516.5" r="5.05" fill="#c8c8b4" stroke="#5a5a5a" stroke-width="0.9"/>
<text transform="translate(441.74,521) scale(0.939,1)">3:09am</text>
<circle cx="513.73" cy="516.5" r="5.05" fill="#c8c8b4" stroke="#5a5a5a" stroke-width="0.9"/>
<text transform="translate(521.33,521) scale(0.939,1)">4:07am</text>
<circle cx="593.27" cy="516.5" r="5.05" fill="#c8c8b4" stroke="#5a5a5a" stroke-width="0.9"/>
<text transform="translate(600.87,521) scale(0.939,1)">5:04am</text>
<circle cx="672.66" cy="516.5" r="5.05" fill="#c8c8b4" stroke="#5a5a5a" stroke-width="0.9"/>
<text transform="translate(680.26,521) scale(0.939,1)">5:58am</text>
<text transform="translate(190.00,534) scale(0.939,1)">First Quarter | 4:03pm</text>
</g>
</svg></body></html>
